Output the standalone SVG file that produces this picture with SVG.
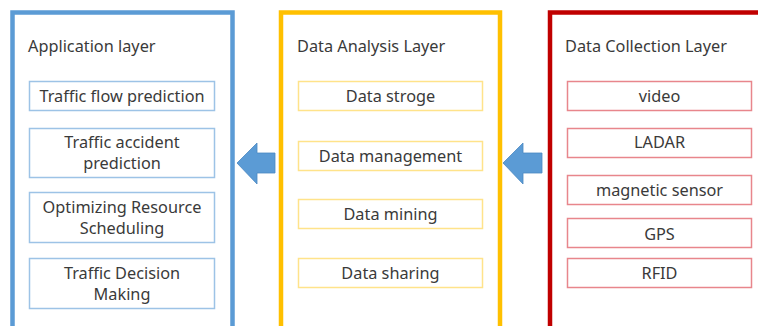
<svg xmlns="http://www.w3.org/2000/svg" width="758" height="326" viewBox="0 0 758 326">
<style>
text{font-family:"Noto Sans","Open Sans","Liberation Sans",sans-serif;font-size:16.3px;fill:#3a3a3a}
.c{text-anchor:middle}
.panel{fill:#fff;stroke-width:4.5}
.pa{stroke:#5B9BD5}
.pd{stroke:#FFC000}
.pc{stroke:#C00000}
.box{fill:#fff;stroke-width:1.5}
.ba{stroke:#9DC3E6}
.bd{stroke:#FFE38A}
.bc{stroke:#E8868C}
.arrow{fill:#5B9BD5;stroke:#4A88C2;stroke-width:0.8}
</style>
<rect width="758" height="326" fill="#fff"/>
<g id="application-layer">
<rect class="panel pa" x="12.5" y="12.5" width="220" height="330"/>
<text x="28" y="52">Application layer</text>
</g>
<g id="traffic-flow"><rect class="box ba" x="29.5" y="81.5" width="185" height="29"/><text class="c" x="122" y="102">Traffic flow prediction</text></g>
<g id="traffic-accident"><rect class="box ba" x="29.5" y="128.5" width="185" height="49"/><text class="c" x="122" y="148">Traffic accident</text><text class="c" x="122" y="169">prediction</text></g>
<g id="optimizing"><rect class="box ba" x="29.5" y="192.5" width="185" height="50"/><text class="c" x="122" y="213">Optimizing Resource</text><text class="c" x="122" y="234">Scheduling</text></g>
<g id="traffic-decision"><rect class="box ba" x="29.5" y="258.5" width="185" height="50"/><text class="c" x="122" y="279">Traffic Decision</text><text class="c" x="122" y="300">Making</text></g>

<g id="data-analysis-layer">
<rect class="panel pd" x="281" y="12.5" width="219" height="330"/>
<text x="297" y="52">Data Analysis Layer</text>
</g>
<g id="data-storage"><rect class="box bd" x="298.5" y="81.5" width="184" height="29"/><text class="c" x="390.5" y="102">Data stroge</text></g>
<g id="data-management"><rect class="box bd" x="298.5" y="141.5" width="184" height="29"/><text class="c" x="390.5" y="162">Data management</text></g>
<g id="data-mining"><rect class="box bd" x="298.5" y="199.5" width="184" height="29"/><text class="c" x="390.5" y="220">Data mining</text></g>
<g id="data-sharing"><rect class="box bd" x="298.5" y="258.5" width="184" height="29"/><text class="c" x="390.5" y="279">Data sharing</text></g>

<g id="data-collection-layer">
<rect class="panel pc" x="550" y="12.5" width="230" height="330"/>
<text x="565" y="52">Data Collection Layer</text>
</g>
<g id="video"><rect class="box bc" x="567.5" y="81.5" width="184" height="29"/><text class="c" x="659.5" y="102">video</text></g>
<g id="ladar"><rect class="box bc" x="567.5" y="128.5" width="184" height="29"/><text class="c" x="659.5" y="148">LADAR</text></g>
<g id="magnetic-sensor"><rect class="box bc" x="567.5" y="175.5" width="184" height="29"/><text class="c" x="659.5" y="196">magnetic sensor</text></g>
<g id="gps"><rect class="box bc" x="567.5" y="218.5" width="184" height="29"/><text class="c" x="659.5" y="240">GPS</text></g>
<g id="rfid"><rect class="box bc" x="567.5" y="258.5" width="184" height="29"/><text class="c" x="659.5" y="279">RFID</text></g>

<g id="connectors">
<path class="arrow" d="M237,163 L257,143 L257,153 L275,153 L275,173 L257,173 L257,184 Z"/>
<path class="arrow" d="M503,163 L523,143 L523,153 L542,153 L542,173 L523,173 L523,184 Z"/>
</g>
</svg>
